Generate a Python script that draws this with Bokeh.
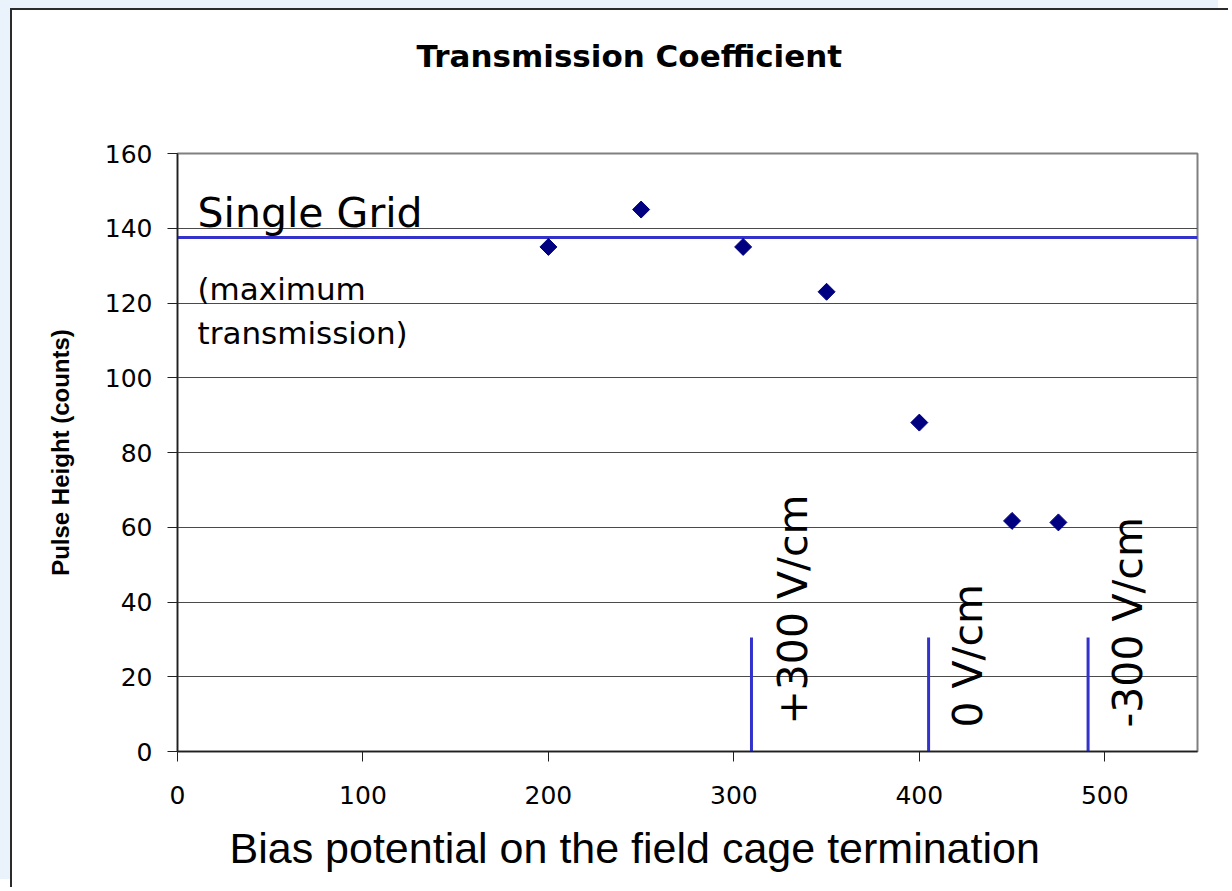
import math
from bokeh.plotting import figure
from bokeh.models import FixedTicker, Span, Title, Range1d
from bokeh.core.properties import value
from bokeh.embed import file_html
from bokeh.resources import INLINE

# ---- data ----
bias_volts = [200, 250, 305, 350, 400, 450, 475]
pulse_height = [135, 145, 135, 123, 88, 61.7, 61.3]

single_grid_level = 137.5

field_marker_x = [309.5, 405, 491]
field_marker_bottom = [0, 0, 0]
field_marker_top = [30.5, 30.5, 30.5]
field_labels = ["+300 V/cm", "0 V/cm", "-300 V/cm"]

x_ticks = [0, 100, 200, 300, 400, 500]
y_ticks = [0, 20, 40, 60, 80, 100, 120, 140, 160]

title_text = "Transmission Coefficient"
y_label = "Pulse Height (counts)"
x_label = "Bias potential on the field cage termination"
note_title = ["Single Grid"]
note_sub = ["(maximum", "transmission)"]

# ---- label placement (data coordinates, text centre lines) ----
field_label_x = [332, 426.5, 512.5]
field_label_y = [7.2, 6.4, 6.4]
note_title_x = [10.8]
note_title_y = [144.1]
note_sub_x = [10.8, 10.8]
note_sub_y = [123.8, 112.0]

BLUE = "#3333CC"
NAVY = "#000080"

p = figure(
    width=1218, height=879,
    x_range=Range1d(0, 550), y_range=Range1d(0, 160),
    output_backend="svg", toolbar_location=None,
    min_border_left=165, min_border_right=33,
    min_border_top=143, min_border_bottom=138,
    background_fill_color="white", border_fill_color="white",
    outline_line_color="#808080", outline_line_width=2,
    styles={"margin-left": "12px", "margin-top": "10px",
            "box-shadow": "-2px -2px 0 0 #2b2b2b, -12px -10px 0 0 #EAF2FB"},
)

# title (pushed away from the frame by an empty spacer title)
p.title.text = title_text
p.title.align = "left"
p.title.offset = 239
p.title.standoff = 10
p.title.text_font = "DejaVu Sans"
p.title.text_font_size = "31px"
p.title.text_font_style = "bold"
p.title.text_color = "black"

spacer = Title(text=" ", text_font_size="1px", standoff=72)
p.add_layout(spacer, "above")

# axes
for ax in (p.xaxis[0], p.yaxis[0]):
    ax.major_label_text_font = "DejaVu Sans"
    ax.major_label_text_font_size = "25px"
    ax.major_label_text_color = "black"
    ax.major_tick_out = 10
    ax.major_tick_in = 0
    ax.minor_tick_line_color = None
    ax.axis_line_color = "#202020"
    ax.axis_line_width = 1.5
    ax.major_tick_line_color = "#202020"

p.xaxis.ticker = FixedTicker(ticks=x_ticks)
p.yaxis.ticker = FixedTicker(ticks=y_ticks)
p.xaxis.major_label_standoff = 24
p.yaxis.major_label_standoff = 15

p.yaxis.axis_label = y_label
p.yaxis.axis_label_text_font = "Liberation Sans"
p.yaxis.axis_label_text_font_size = "24px"
p.yaxis.axis_label_text_font_style = "bold"
p.yaxis.axis_label_text_color = "black"
p.yaxis.axis_label_standoff = 28

xl = Title(text=x_label, align="left", offset=52, standoff=31,
           text_font="Liberation Sans", text_font_size="43px",
           text_font_style="normal", text_color="black")
p.add_layout(xl, "below")

# grid
p.xgrid.visible = False
p.ygrid.ticker = FixedTicker(ticks=y_ticks)
p.ygrid.grid_line_color = "#4a4a4a"
p.ygrid.grid_line_width = 1.2

# single grid reference line
sg = Span(location=single_grid_level, dimension="width",
          line_color=BLUE, line_width=3, level="underlay")
p.add_layout(sg)

# field markers
p.segment(x0=field_marker_x, y0=field_marker_bottom,
          x1=field_marker_x, y1=field_marker_top,
          line_color=BLUE, line_width=3)

# data points (diamonds = squares turned 45 degrees)
p.scatter(bias_volts, pulse_height, marker="square", size=12,
          angle=math.pi / 4, fill_color=NAVY, line_color=NAVY)

# annotations
p.text(x=note_title_x, y=note_title_y, text=note_title,
       text_font=value("DejaVu Sans"), text_font_size="41px",
       text_baseline="middle", text_align="left", text_color="black")
p.text(x=note_sub_x, y=note_sub_y, text=note_sub,
       text_font=value("DejaVu Sans"), text_font_size="31px",
       text_baseline="middle", text_align="left", text_color="black")
p.text(x=field_label_x, y=field_label_y, text=field_labels,
       angle=math.pi / 2,
       text_font=value("DejaVu Sans"), text_font_size="41px",
       text_baseline="middle", text_align="left", text_color="black")

open("out.html", "w").write(file_html(p, INLINE))
